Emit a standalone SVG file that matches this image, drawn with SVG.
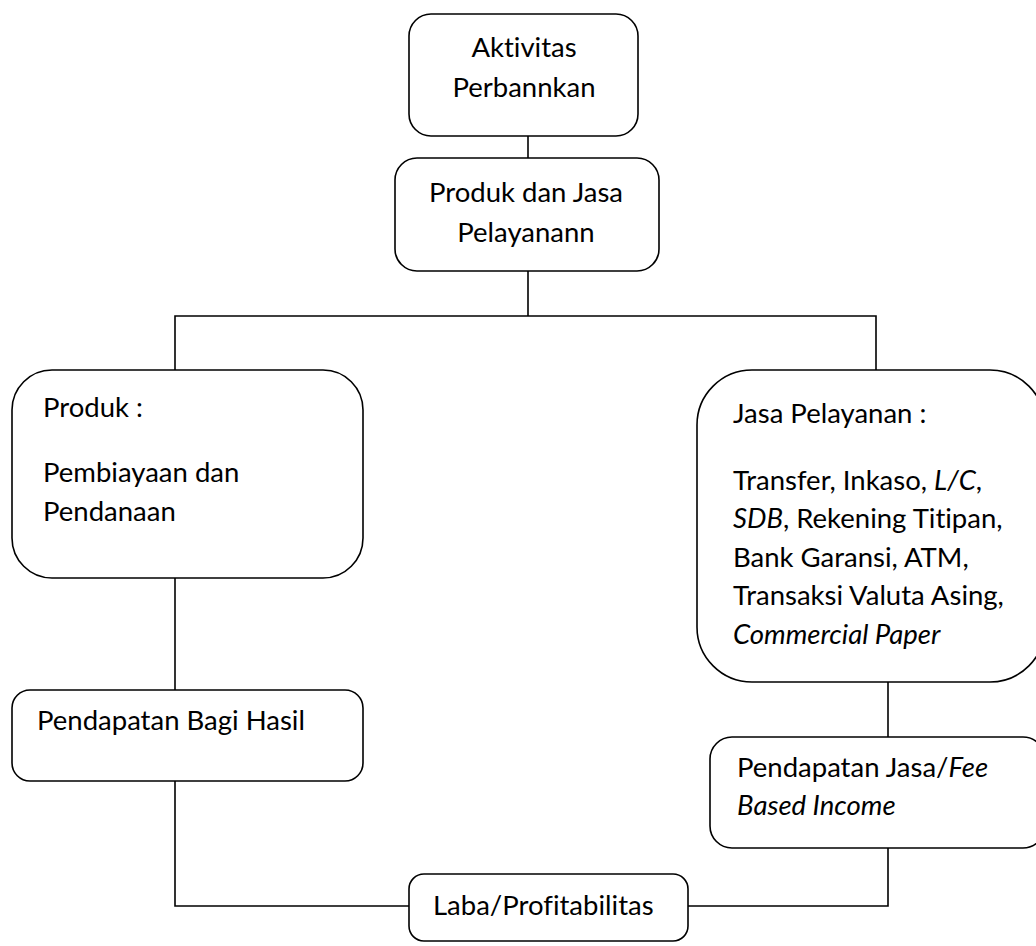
<svg xmlns="http://www.w3.org/2000/svg" width="1036" height="946" viewBox="0 0 1036 946">
<style>
.box{fill:#fff;stroke:#000;stroke-width:1.6}
.ln{fill:none;stroke:#000;stroke-width:1.6}
text{font-family:Lato,"Open Sans",sans-serif;font-size:27.5px;fill:#000;font-variant-ligatures:none;font-feature-settings:"liga" 0}
.c{text-anchor:middle}
.i{font-style:italic}
</style>
<rect width="1036" height="946" fill="#fff"/>
<g id="connectors">
<path class="ln" d="M528,120 V158"/>
<path class="ln" d="M528,271 V316 M175,370 V316 H876 V370"/>
<path class="ln" d="M175,578 V690"/>
<path class="ln" d="M888,682 V737"/>
<path class="ln" d="M175,781 V906 H410"/>
<path class="ln" d="M888,848 V906 H688"/>
</g>
<g id="n1">
<rect class="box" x="409" y="14" width="229" height="122" rx="22"/>
<text class="c" x="524" y="57">Aktivitas</text>
<text class="c" x="524" y="97">Perbannkan</text>
</g>
<g id="n2">
<rect class="box" x="395" y="158" width="264" height="113" rx="22"/>
<text class="c" x="526" y="202">Produk dan Jasa</text>
<text class="c" x="526" y="242">Pelayanann</text>
</g>
<g id="n3">
<rect class="box" x="12" y="370" width="351" height="208" rx="40"/>
<text x="43" y="417">Produk :</text>
<text x="43" y="482">Pembiayaan dan</text>
<text x="43" y="521">Pendanaan</text>
</g>
<g id="n4">
<rect class="box" x="697" y="370" width="348" height="312" rx="55"/>
<text x="733" y="423">Jasa Pelayanan :</text>
<text x="733" y="490">Transfer, Inkaso, <tspan class="i">L/C</tspan>,</text>
<text x="733" y="528"><tspan class="i">SDB</tspan>, Rekening Titipan,</text>
<text x="733" y="567">Bank Garansi, ATM,</text>
<text x="733" y="605">Transaksi Valuta Asing,</text>
<text x="733" y="644" class="i">Commercial Paper</text>
</g>
<g id="n5">
<rect class="box" x="12" y="690" width="351" height="91" rx="18"/>
<text x="37" y="730">Pendapatan Bagi Hasil</text>
</g>
<g id="n6">
<rect class="box" x="710" y="737" width="335" height="111" rx="22"/>
<text x="737" y="777">Pendapatan Jasa/<tspan class="i">Fee</tspan></text>
<text x="737" y="815" class="i">Based Income</text>
</g>
<g id="n7">
<rect class="box" x="409" y="874" width="279" height="67" rx="15"/>
<text x="433" y="915">Laba/Profitabilitas</text>
</g>
</svg>
